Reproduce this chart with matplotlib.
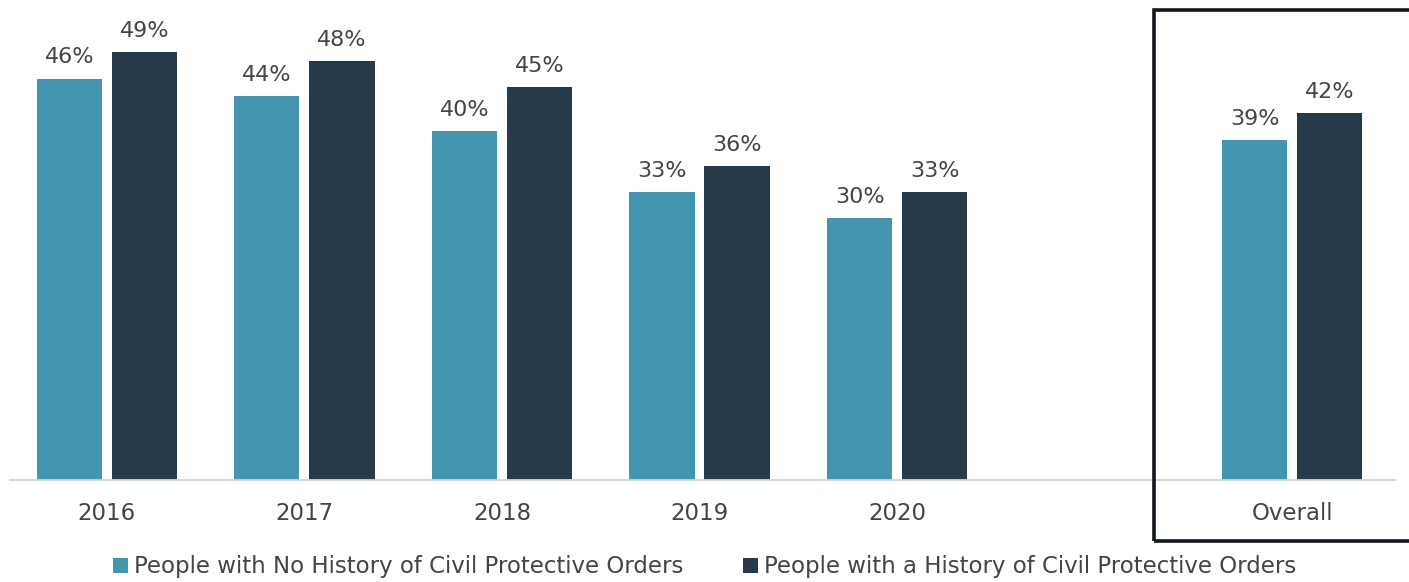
import matplotlib
matplotlib.use("Agg")
import matplotlib.pyplot as plt
from matplotlib.patches import Rectangle

categories = ["2016", "2017", "2018", "2019", "2020", "Overall"]
no_history = [46, 44, 40, 33, 30, 39]
with_history = [49, 48, 45, 36, 33, 42]
series_names = ["People with No History of Civil Protective Orders",
                "People with a History of Civil Protective Orders"]

# slot positions: a blank slot separates the yearly bars from the overall pair
positions = [0, 1, 2, 3, 4, 6]

teal = "#4395b0"
navy = "#263a49"
text_gray = "#444444"

plt.rcParams["font.family"] = ["DejaVu Sans"]

W, H = 1409, 582
fig = plt.figure(figsize=(W / 100, H / 100), dpi=100)
ax = fig.add_axes([10 / W, (H - 480) / H, 1385 / W, 480 / H])

width = 0.33
offset = 0.19
bars1 = ax.bar([p - offset for p in positions], no_history, width, color=teal,
               label=series_names[0])
bars2 = ax.bar([p + offset for p in positions], with_history, width, color=navy,
               label=series_names[1])

for bars, vals in ((bars1, no_history), (bars2, with_history)):
    for b, v in zip(bars, vals):
        ax.annotate(f"{v}%", (b.get_x() + b.get_width() / 2, v),
                    xytext=(0, 8), textcoords="offset points",
                    ha="center", va="bottom", fontsize=16, color=text_gray)

ax.set_xlim(-0.49, 6.52)
ax.set_ylim(0, 55)
ax.set_xticks(positions)
ax.set_xticklabels(categories, fontsize=16.5, color=text_gray)
ax.tick_params(axis="x", length=0, pad=16)
ax.set_yticks([])
for side in ("top", "right", "left"):
    ax.spines[side].set_visible(False)
ax.spines["bottom"].set_color("#d4d4d4")
ax.spines["bottom"].set_linewidth(1.3)

# frame around the overall pair
fig.patches.append(Rectangle((1154 / W, (H - 541) / H), 270 / W, 531 / H,
                             transform=fig.transFigure, fill=False,
                             edgecolor="#111820", linewidth=2.6, clip_on=False))

fig.legend(handles=[bars1, bars2], labels=series_names, loc="center",
           bbox_to_anchor=(705 / W, (H - 567) / H), ncol=2, frameon=False,
           fontsize=16.5, labelcolor=text_gray, handlelength=0.62, handleheight=0.62,
           handletextpad=0.3, columnspacing=2.6)

fig.savefig("out.png", dpi=100)
